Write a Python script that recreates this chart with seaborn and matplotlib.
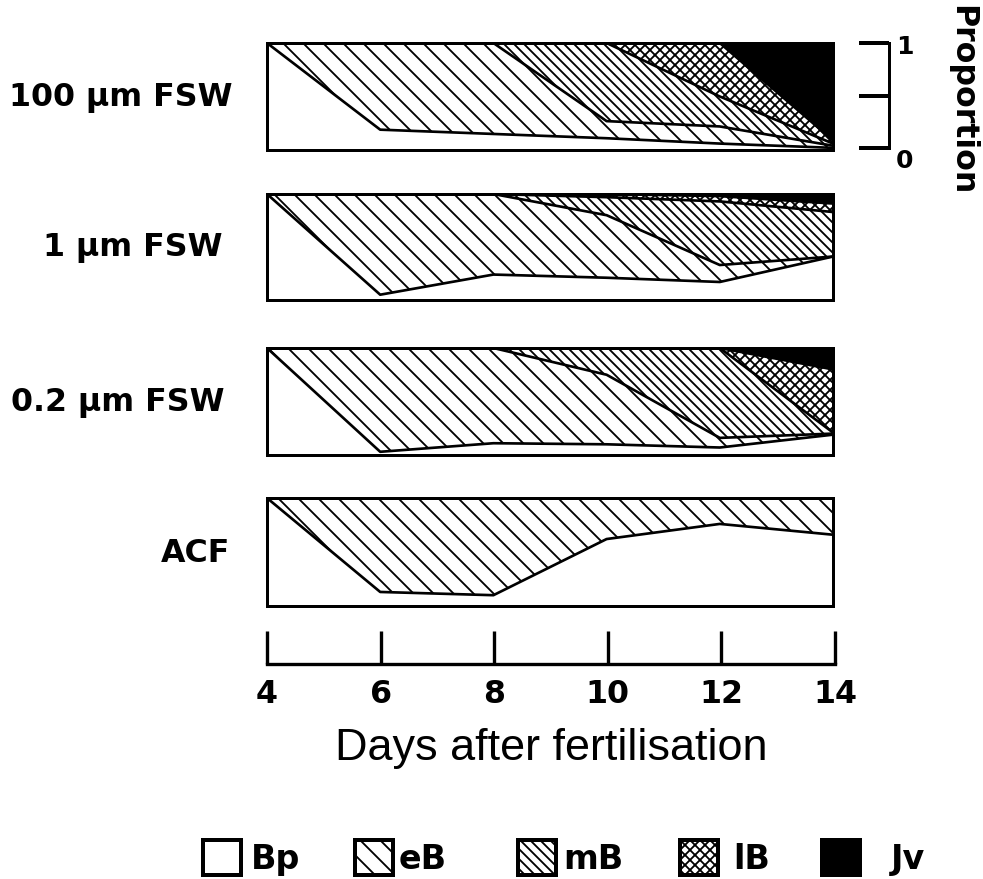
import matplotlib
matplotlib.use("Agg")
import matplotlib.pyplot as plt
from matplotlib.patches import Patch
import numpy as np
import seaborn as sns

# ---------------- data (proportions) ----------------
days = [4, 6, 8, 10, 12, 14]
tick_labels = ["4", "6", "8", "10", "12", "14"]
stages = ["Bp", "eB", "mB", "lB", "Jv"]
treatments = ["100 µm FSW", "1 µm FSW", "0.2 µm FSW", "ACF"]

fsw100_Bp = [1.00, 0.19, 0.15, 0.11, 0.06, 0.02]
fsw100_eB = [0.00, 0.81, 0.85, 0.16, 0.16, 0.02]
fsw100_mB = [0.00, 0.00, 0.00, 0.73, 0.28, 0.02]
fsw100_lB = [0.00, 0.00, 0.00, 0.00, 0.50, 0.03]
fsw100_Jv = [0.00, 0.00, 0.00, 0.00, 0.00, 0.91]

fsw1_Bp = [1.00, 0.05, 0.24, 0.21, 0.17, 0.41]
fsw1_eB = [0.00, 0.95, 0.76, 0.59, 0.16, 0.00]
fsw1_mB = [0.00, 0.00, 0.00, 0.17, 0.60, 0.42]
fsw1_lB = [0.00, 0.00, 0.00, 0.03, 0.05, 0.08]
fsw1_Jv = [0.00, 0.00, 0.00, 0.00, 0.02, 0.09]

fsw02_Bp = [1.00, 0.03, 0.11, 0.10, 0.07, 0.19]
fsw02_eB = [0.00, 0.97, 0.89, 0.65, 0.09, 0.01]
fsw02_mB = [0.00, 0.00, 0.00, 0.25, 0.84, 0.01]
fsw02_lB = [0.00, 0.00, 0.00, 0.00, 0.00, 0.59]
fsw02_Jv = [0.00, 0.00, 0.00, 0.00, 0.00, 0.20]

acf_Bp = [1.00, 0.13, 0.10, 0.62, 0.76, 0.66]
acf_eB = [0.00, 0.87, 0.90, 0.38, 0.24, 0.34]
acf_mB = [0.00, 0.00, 0.00, 0.00, 0.00, 0.00]
acf_lB = [0.00, 0.00, 0.00, 0.00, 0.00, 0.00]
acf_Jv = [0.00, 0.00, 0.00, 0.00, 0.00, 0.00]

panel_data = [
    [fsw100_Bp, fsw100_eB, fsw100_mB, fsw100_lB, fsw100_Jv],
    [fsw1_Bp, fsw1_eB, fsw1_mB, fsw1_lB, fsw1_Jv],
    [fsw02_Bp, fsw02_eB, fsw02_mB, fsw02_lB, fsw02_Jv],
    [acf_Bp, acf_eB, acf_mB, acf_lB, acf_Jv],
]

# ---------------- styles ----------------
stage_style = {
    "Bp": dict(facecolor="white", hatch=None),
    "eB": dict(facecolor="white", hatch="\\\\"),
    "mB": dict(facecolor="white", hatch="\\\\\\\\"),
    "lB": dict(facecolor="white", hatch="xxxx"),
    "Jv": dict(facecolor="black", hatch=None),
}

sns.set_theme(style="white")
plt.rcParams["font.family"] = ["DejaVu Sans"]
plt.rcParams["text.color"] = "black"
plt.rcParams["axes.labelcolor"] = "black"
plt.rcParams["xtick.color"] = "black"
plt.rcParams["ytick.color"] = "black"
plt.rcParams["hatch.linewidth"] = 1.1
plt.rcParams["hatch.color"] = "black"

W, H = 984, 879
DPI = 120
fig = plt.figure(figsize=(W / DPI, H / DPI), dpi=DPI)
fig.patch.set_facecolor("white")

def fx(px):
    return px / W

def fy(py):
    return 1 - py / H

x_left, x_right = 267, 833
panel_tops = [43, 194, 348, 498]
panel_bots = [150, 300, 455, 606]
label_base = [106, 256, 411, 562]
label_right = [233, 223, 225, 230]

for i, (name, series) in enumerate(zip(treatments, panel_data)):
    ax = fig.add_axes([fx(x_left), fy(panel_bots[i]), fx(x_right - x_left),
                       (panel_bots[i] - panel_tops[i]) / H])
    lower = np.zeros(len(days))
    cums = []
    for stage, vals in zip(stages, series):
        upper = lower + np.array(vals)
        st = stage_style[stage]
        ax.fill_between(days, lower, upper, facecolor=st["facecolor"],
                        edgecolor="black", hatch=st["hatch"], linewidth=0)
        cums.append(upper.copy())
        lower = upper
    for c in cums[:-1]:
        sns.lineplot(x=days, y=np.minimum(c, 1.0), ax=ax, color="black",
                     linewidth=1.6, legend=False)
    ax.set_xlim(4, 14)
    ax.set_ylim(0, 1)
    ax.set_xticks([])
    ax.set_yticks([])
    ax.set_xlabel("")
    ax.set_ylabel("")
    for sp in ax.spines.values():
        sp.set_visible(True)
        sp.set_linewidth(1.8)
        sp.set_color("black")
    fig.text(fx(label_right[i]), fy(label_base[i]), name, ha="right",
             va="baseline", fontsize=19, fontweight="bold", color="black")

# ---------------- proportion scale ----------------
sax = fig.add_axes([fx(889), fy(148), 0.0005, (148 - 43) / H])
sax.set_ylim(0, 1)
sax.set_xticks([])
sax.set_yticks([0, 0.5, 1])
sax.set_yticklabels([])
for k in ["top", "bottom", "left"]:
    sax.spines[k].set_visible(False)
sax.spines["right"].set_visible(True)
sax.spines["right"].set_linewidth(1.8)
sax.spines["right"].set_color("black")
sax.yaxis.set_ticks_position("right")
sax.tick_params(axis="y", direction="in", length=18, width=2.4, colors="black")
sax.patch.set_alpha(0)
fig.text(fx(896), fy(54), "1", ha="left", va="baseline", fontsize=15,
         fontweight="bold")
fig.text(fx(896), fy(168), "0", ha="left", va="baseline", fontsize=15,
         fontweight="bold")
fig.text(fx(962), fy(100), "Proportion", rotation=270, ha="center", va="center",
         fontsize=19, fontweight="bold")

# ---------------- day axis ----------------
xax = fig.add_axes([fx(x_left), fy(664), fx(x_right - x_left + 2), 0.0005])
xax.set_xlim(4, 14)
xax.set_yticks([])
xax.set_xticks(days)
xax.set_xticklabels(tick_labels, fontsize=19, fontweight="bold")
for k in ["top", "left", "right"]:
    xax.spines[k].set_visible(False)
xax.spines["bottom"].set_visible(True)
xax.spines["bottom"].set_linewidth(2.0)
xax.spines["bottom"].set_color("black")
xax.xaxis.set_ticks_position("bottom")
xax.tick_params(axis="x", direction="in", length=20, width=2.0, pad=9,
                colors="black")
xax.patch.set_alpha(0)
xax.set_xlabel("Days after fertilisation", fontsize=27, fontweight="normal",
               family=["Liberation Sans", "DejaVu Sans"], labelpad=11,
               color="black")

# ---------------- legend ----------------
leg_x = [203, 355, 518, 680, 822]
leg_pad = [0.3, 0.15, 0.2, 0.45, 0.9]
for stage, lx, pad in zip(stages, leg_x, leg_pad):
    st = stage_style[stage]
    h = Patch(facecolor=st["facecolor"], edgecolor="black", hatch=st["hatch"],
              linewidth=2.4)
    lg = fig.legend(handles=[h], labels=[stage], loc="center left",
                    bbox_to_anchor=(fx(lx), fy(858)), frameon=False,
                    borderpad=0, borderaxespad=0, handlelength=1.15,
                    handleheight=1.2, handletextpad=pad,
                    prop=dict(size=20, weight="bold"))
    for t in lg.get_texts():
        t.set_color("black")

fig.savefig("out.png", dpi=DPI, facecolor="white")
